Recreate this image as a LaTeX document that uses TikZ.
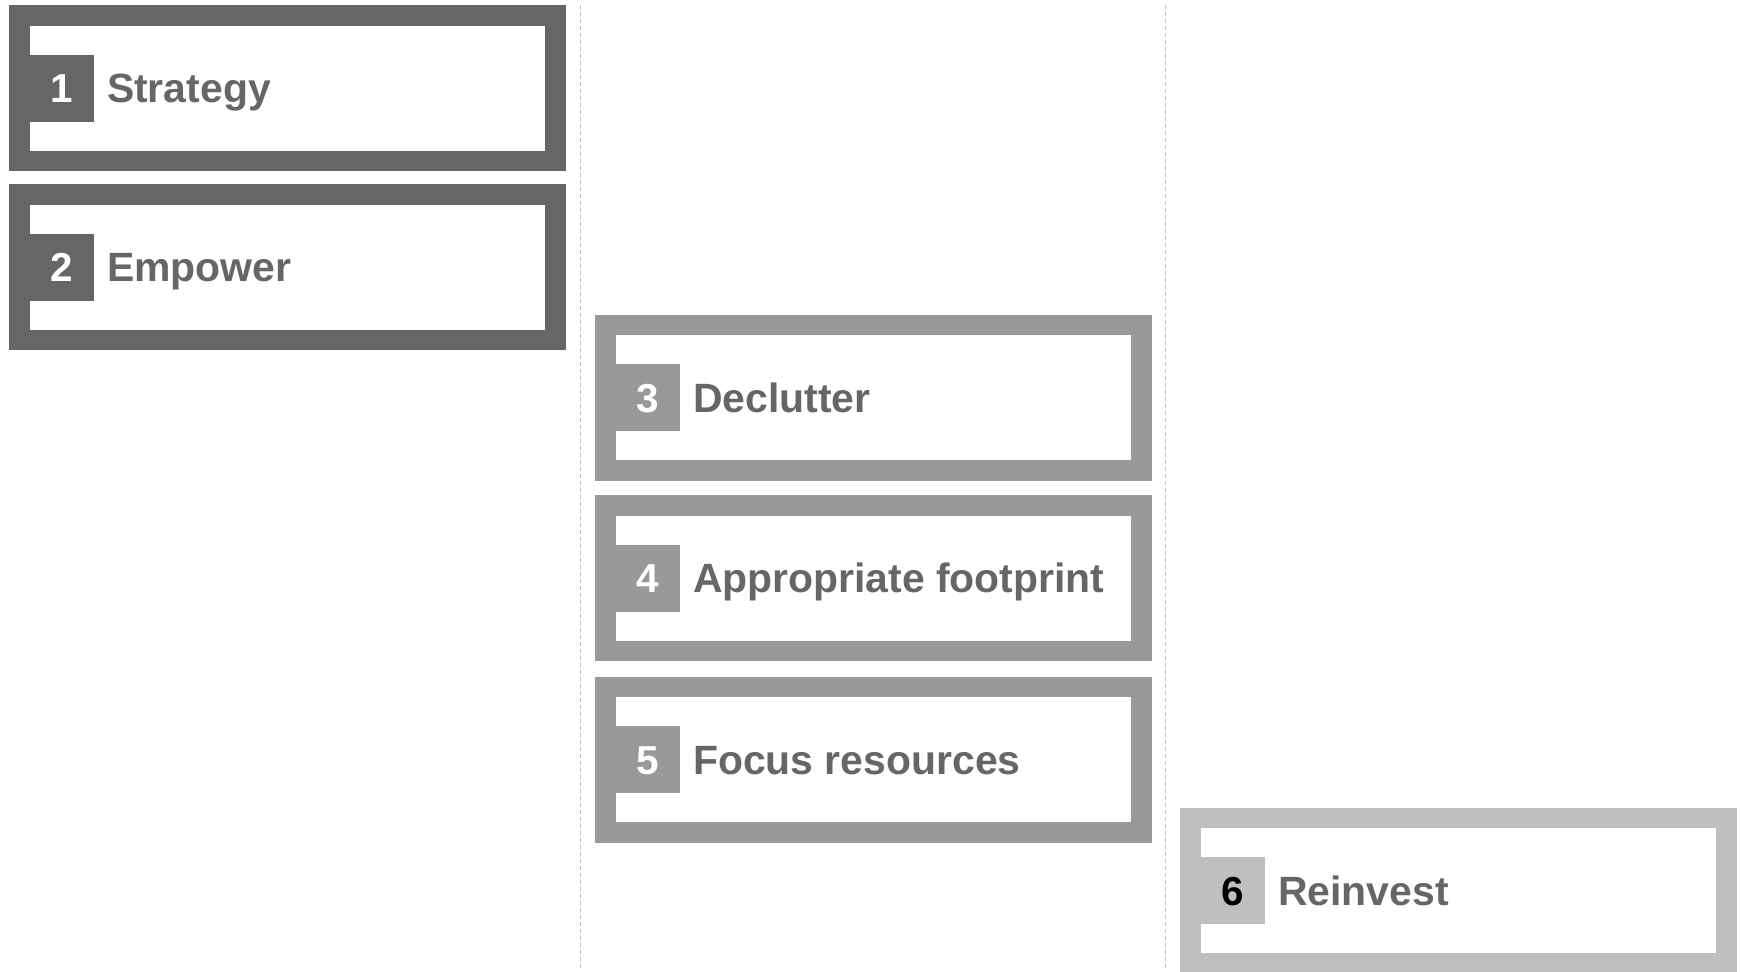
\documentclass[tikz,border=0pt]{standalone}
\usepackage{fontspec}
\setmainfont{Liberation Sans}
\usetikzlibrary{positioning}

\newlength\pxu
\setlength\pxu{0.02cm}

\definecolor{darkgrey}{HTML}{666666}
\definecolor{midgrey}{HTML}{999999}
\definecolor{lightgrey}{HTML}{BFBFBF}
\definecolor{guidegrey}{HTML}{C0C0C0}

\tikzset{
	stagebox/.style={draw=#1, line width=20.5\pxu, minimum width=536\pxu, minimum height=145.5\pxu, inner sep=0pt},
	numtab/.style={fill=#1, text=white, minimum width=64\pxu, minimum height=67\pxu, inner sep=0pt, outer sep=0pt,
		font=\bfseries\fontsize{23}{27}\selectfont, text height=16.5pt, text depth=0pt},
	stagelabel/.style={text=darkgrey, inner sep=0pt, outer sep=0pt,
		font=\bfseries\fontsize{23.3}{27}\selectfont, text height=16.7pt, text depth=0pt},
	guide/.style={draw=guidegrey, line width=1\pxu, dash pattern=on 4\pxu off 3\pxu}
}

\begin{document}
\begin{tikzpicture}[x=1\pxu, y=-1\pxu]
	\useasboundingbox (0,0) rectangle (1741,972);

	% column separators
	\draw[guide] (580.25,5) -- (580.25,970);
	\draw[guide] (1165.75,5) -- (1165.75,970);

	\node[stagebox=darkgrey] (f1) at (287.25,88.25) {};
	\node[stagebox=darkgrey] (f2) at (287.25,267.25) {};
	\node[stagebox=midgrey] (f3) at (873.25,397.75) {};
	\node[stagebox=midgrey] (f4) at (873.25,578.25) {};
	\node[stagebox=midgrey] (f5) at (873.25,759.75) {};
	\node[stagebox=lightgrey] (f6) at (1458.25,890.75) {};

	\node[numtab=darkgrey, right=20.5\pxu of f1.west] (t1) {1};
	\node[numtab=darkgrey, right=20.5\pxu of f2.west] (t2) {2};
	\node[numtab=midgrey, right=20.5\pxu of f3.west] (t3) {3};
	\node[numtab=midgrey, right=20.5\pxu of f4.west] (t4) {4};
	\node[numtab=midgrey, right=20.5\pxu of f5.west] (t5) {5};
	\node[numtab=lightgrey, text=black, right=20.5\pxu of f6.west] (t6) {6};

	\node[stagelabel, right=13.5\pxu of t1] (l1) {Strategy};
	\node[stagelabel, right=13.5\pxu of t2] (l2) {Empower};
	\node[stagelabel, right=13.5\pxu of t3] (l3) {Declutter};
	\node[stagelabel, right=13.5\pxu of t4] (l4) {Appropriate footprint};
	\node[stagelabel, right=13.5\pxu of t5] (l5) {Focus resources};
	\node[stagelabel, right=13.5\pxu of t6] (l6) {Reinvest};
\end{tikzpicture}
\end{document}
